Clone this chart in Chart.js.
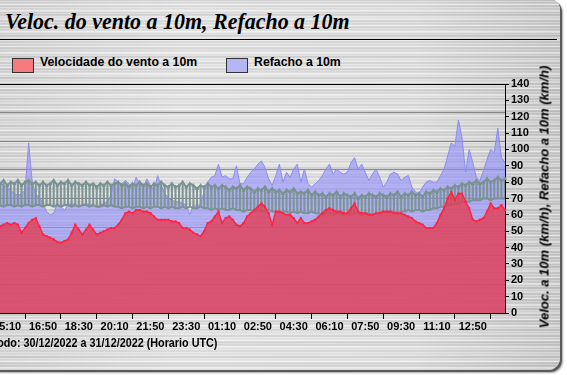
<!DOCTYPE html>
<html>
<head>
<meta charset="utf-8">
<script src="https://cdn.jsdelivr.net/npm/chart.js@4.4.1/dist/chart.umd.min.js"></script>
<style>
    html, body { margin: 0; padding: 0; background: #fff; }
    #stage {
        position: relative; width: 567px; height: 375px; overflow: hidden;
        font-family: "Liberation Sans", Arial, sans-serif; color: #000;
    }
    #frame {
        position: absolute; left: -20px; top: -2px; width: 580px; height: 372px;
        border-radius: 12px;
        box-shadow: 2px 2px 0 #5a5a5a, 3px 3px 2px rgba(0,0,0,0.35);
        background:
            repeating-linear-gradient(180deg, rgba(255,255,255,0.55) 0px, rgba(255,255,255,0) 1px, rgba(0,0,0,0.05) 2px, rgba(255,255,255,0) 3px),
            repeating-linear-gradient(180deg, rgba(0,0,0,0) 0px, rgba(0,0,0,0.06) 2px, rgba(0,0,0,0) 5px, rgba(255,255,255,0.45) 7px),
            repeating-linear-gradient(180deg, rgba(0,0,0,0) 0px, rgba(0,0,0,0.05) 4px, rgba(0,0,0,0) 11px),
            linear-gradient(90deg, #dcdcdc 0%, #ececec 35%, #e6e6e6 75%, #d0d0d0 100%);
    }
    #title {
        position: absolute; left: 5px; top: 8px; line-height: 24px;
        font: italic bold 24px "Liberation Serif", "Times New Roman", serif;
        white-space: nowrap; transform-origin: 0 0; transform: scaleX(0.915);
    }
    #rule { position: absolute; left: 0; top: 39px; width: 557px; border-top: 1px solid #000; }
    .key { position: absolute; top: 58px; width: 20px; height: 13px; border: 1px solid #333; }
    .keytxt { position: absolute; top: 56px; font-weight: bold; font-size: 12.3px; line-height: 12px; white-space: nowrap; }
    #ytitle {
        position: absolute; left: 544px; top: 197px; white-space: nowrap;
        font: italic bold 13px "Liberation Sans", Arial, sans-serif;
        transform: translate(-50%, -50%) rotate(-90deg);
    }
    #period {
        position: absolute; right: 350px; top: 337px; font-weight: bold; font-size: 12px;
        line-height: 12px; white-space: nowrap; transform-origin: 100% 0; transform: scaleX(0.9);
    }
    #chart { position: absolute; left: 0; top: 0; }
</style>
</head>
<body>
<div id="stage">
    <div id="frame"></div>
    <div id="title">Veloc. do vento a 10m, Refacho a 10m</div>
    <div id="rule"></div>
    <div class="key" style="left:12px;background:#f57a7e"></div>
    <div class="keytxt" style="left:40px">Velocidade do vento a 10m</div>
    <div class="key" style="left:226px;background:#b6b6f4"></div>
    <div class="keytxt" style="left:254px">Refacho a 10m</div>
    <canvas id="chart" width="567" height="375"></canvas>
    <div id="ytitle">Veloc. a 10m (km/h), Refacho a 10m (km/h)</div>
    <div id="period">Período: 30/12/2022 a 31/12/2022 (Horario UTC)</div>
</div>
<script>
const timeLabels = [
    '14:50',
    '15:00', '15:10', '15:20', '15:30', '15:40', '15:50',
    '16:00', '16:10', '16:20', '16:30', '16:40', '16:50',
    '17:00', '17:10', '17:20', '17:30', '17:40', '17:50',
    '18:00', '18:10', '18:20', '18:30', '18:40', '18:50',
    '19:00', '19:10', '19:20', '19:30', '19:40', '19:50',
    '20:00', '20:10', '20:20', '20:30', '20:40', '20:50',
    '21:00', '21:10', '21:20', '21:30', '21:40', '21:50',
    '22:00', '22:10', '22:20', '22:30', '22:40', '22:50',
    '23:00', '23:10', '23:20', '23:30', '23:40', '23:50',
    '00:00', '00:10', '00:20', '00:30', '00:40', '00:50',
    '01:00', '01:10', '01:20', '01:30', '01:40', '01:50',
    '02:00', '02:10', '02:20', '02:30', '02:40', '02:50',
    '03:00', '03:10', '03:20', '03:30', '03:40', '03:50',
    '04:00', '04:10', '04:20', '04:30', '04:40', '04:50',
    '05:00', '05:10', '05:20', '05:30', '05:40', '05:50',
    '06:00', '06:10', '06:20', '06:30', '06:40', '06:50',
    '07:00', '07:10', '07:20', '07:30', '07:40', '07:50',
    '08:00', '08:10', '08:20', '08:30', '08:40', '08:50',
    '09:00', '09:10', '09:20', '09:30', '09:40', '09:50',
    '10:00', '10:10', '10:20', '10:30', '10:40', '10:50',
    '11:00', '11:10', '11:20', '11:30', '11:40', '11:50',
    '12:00', '12:10', '12:20', '12:30', '12:40', '12:50',
    '13:00', '13:10', '13:20', '13:30', '13:40', '13:50',
    '14:00', '14:10', '14:20'
];

const xTickLabels = ['15:10', '16:50', '18:30', '20:10', '21:50', '23:30', '01:10',
    '02:50', '04:30', '06:10', '07:50', '09:30', '11:10', '12:50'];

// km/h
const windSpeed = [
    53, 54, 55, 54, 55, 54, 49, 52, 55, 57, 58, 53,
    48, 47, 46, 45, 43.5, 43, 44, 45, 49, 54, 51, 48,
    51, 54, 51, 48, 49, 50, 51, 52, 52, 54, 57, 61,
    62, 61, 63, 63, 62, 62, 61, 59, 57, 57, 57, 57,
    56, 56, 55, 52, 52, 51, 49, 48, 47, 50, 55, 56,
    59, 62, 55, 58, 59, 57, 54, 53, 55, 59, 61, 63,
    65, 67, 65, 61, 54, 62, 62, 61, 60, 60, 58, 55,
    58, 55, 55, 56, 57, 59, 61, 63, 64, 63, 62, 62,
    61, 61, 64, 67, 62, 61, 61, 60, 60, 61, 61, 62,
    62, 62, 61, 61, 61, 60, 59, 58, 56, 55, 54, 52,
    52, 52, 55, 60, 64, 70, 74, 69, 73, 73, 68, 64,
    57, 56, 57, 58, 62, 67, 64, 64, 66, 63
];

const windGust = [
    80, 78, 77, 75, 73, 72, 73, 75, 104, 80, 72, 71,
    67, 62, 60, 61, 67, 65, 63, 66, 67, 66, 65, 66,
    67, 66, 66, 65, 66, 67, 68, 72, 82, 80, 79, 81,
    79, 76, 83, 79, 77, 82, 78, 75, 84, 78, 73, 70,
    69, 68, 68, 67, 66, 60, 66, 65, 67, 74, 80, 83,
    84, 91, 83, 84, 82, 82, 90, 79, 79, 83, 86, 88,
    91, 93, 89, 82, 78, 84, 91, 80, 86, 83, 88, 91,
    80, 88, 79, 77, 79, 81, 84, 88, 91, 85, 88, 86,
    85, 86, 92, 95, 88, 91, 86, 81, 85, 88, 83, 77,
    80, 85, 86, 85, 81, 83, 84, 77, 74, 73, 77, 80,
    81, 80, 80, 84, 88, 96, 104, 102, 118, 107, 86, 100,
    92, 83, 81, 87, 94, 100, 98, 113, 95, 92
];

// grey band drawn behind the wind speed
const bandHigh = [
    79, 81, 78, 80, 79, 81, 78, 80, 81, 79, 80, 78,
    80, 78, 79, 81, 78, 80, 79, 81, 78, 80, 79, 78,
    80, 78, 79, 77, 79, 78, 80, 78, 79, 80, 78, 79,
    77, 79, 78, 80, 78, 79, 77, 79, 78, 80, 78, 77,
    79, 77, 78, 80, 77, 79, 78, 76, 78, 77, 79, 77,
    78, 76, 78, 77, 75, 77, 76, 78, 75, 77, 76, 74,
    76, 75, 77, 74, 76, 74, 75, 73, 75, 74, 76, 73,
    74, 73, 75, 72, 74, 72, 73, 71, 73, 72, 74, 71,
    73, 72, 71, 73, 70, 72, 71, 73, 72, 71, 73, 72,
    71, 73, 72, 74, 71, 73, 72, 74, 72, 73, 71, 74,
    73, 75, 74, 76, 75, 77, 76, 78, 77, 79, 78, 80,
    79, 81, 79, 80, 82, 80, 81, 83, 81, 82
];

const bandLow = [
    66, 65, 66, 66, 65, 66, 65, 66, 66, 65, 66, 66,
    65, 66, 66, 65, 66, 65, 66, 66, 65, 66, 65, 66,
    66, 65, 66, 65, 65, 66, 65, 66, 65, 65, 64, 65,
    65, 64, 65, 65, 64, 65, 64, 65, 65, 64, 65, 64,
    65, 64, 64, 65, 64, 65, 64, 64, 65, 64, 64, 63,
    64, 63, 64, 63, 63, 64, 63, 63, 62, 63, 63, 62,
    63, 62, 62, 63, 62, 62, 61, 62, 62, 61, 62, 61,
    62, 61, 61, 62, 61, 61, 60, 61, 61, 60, 61, 61,
    60, 61, 60, 61, 61, 60, 61, 61, 60, 61, 61, 62,
    61, 62, 62, 61, 62, 62, 63, 62, 63, 63, 62, 63,
    63, 64, 64, 65, 65, 66, 66, 67, 67, 68, 68, 68,
    69, 69, 69, 70, 70, 69, 70, 70, 70, 70
];

const colors = {
    speedLine: '#ff2445',
    speedFill: 'rgba(228, 60, 82, 0.8)',
    gustLine: 'rgb(140, 140, 240)',
    gustFill: 'rgba(140, 140, 250, 0.6)',
    band: '#7a9292',
    bandBar: '#7d9494'
};

const tickFont = { family: '"Liberation Sans", Arial, sans-serif', weight: 'bold', size: 11 };

function buildChart() {
    const canvas = document.getElementById('chart');

    new Chart(canvas, {
        type: 'line',
        data: {
            labels: timeLabels,
            datasets: [
                {
                    label: 'Velocidade do vento a 10m',
                    data: windSpeed,
                    yAxisID: 'y',
                    borderColor: colors.speedLine,
                    backgroundColor: colors.speedFill,
                    fill: 'origin',
                    borderWidth: 1.5,
                    pointStyle: 'rect',
                    pointRadius: 1.5,
                    pointBorderWidth: 0,
                    pointBackgroundColor: colors.speedLine,
                    order: 0
                },
                {
                    label: 'band top',
                    data: bandHigh,
                    yAxisID: 'y',
                    borderColor: colors.band,
                    borderWidth: 2,
                    pointStyle: 'triangle',
                    pointRadius: 2.5,
                    pointBorderWidth: 0,
                    pointBackgroundColor: colors.band,
                    fill: false,
                    order: 1
                },
                {
                    label: 'band bottom',
                    data: bandLow,
                    yAxisID: 'y',
                    borderColor: colors.band,
                    borderWidth: 2,
                    pointRadius: 0,
                    fill: false,
                    order: 1
                },
                {
                    type: 'bar',
                    label: 'band',
                    data: bandLow.map((lo, i) => [lo, bandHigh[i]]),
                    yAxisID: 'y',
                    backgroundColor: colors.bandBar,
                    barThickness: 1.4,
                    order: 2
                },
                {
                    label: 'Refacho a 10m',
                    data: windGust,
                    yAxisID: 'y',
                    borderColor: colors.gustLine,
                    backgroundColor: colors.gustFill,
                    fill: 'origin',
                    borderWidth: 1,
                    pointRadius: 0,
                    order: 3
                }
            ]
        },
        options: {
            animation: false,
            responsive: false,
            events: [],
            layout: { padding: { top: 84, left: 0, right: 0, bottom: 0 }, autoPadding: false },
            elements: { line: { tension: 0 } },
            plugins: {
                legend: { display: false },
                tooltip: { enabled: false }
            },
            scales: {
                x: {
                    type: 'category',
                    offset: false,
                    border: { display: true, color: '#000', width: 1 },
                    grid: { drawOnChartArea: false, drawTicks: true, tickLength: 6, color: '#000' },
                    ticks: { autoSkip: false, maxRotation: 0, minRotation: 0, padding: 1, color: '#000', font: tickFont },
                    afterBuildTicks: scale => {
                        scale.ticks = scale.ticks.filter(t => xTickLabels.includes(timeLabels[t.value]));
                    },
                    afterFit: scale => {
                        scale.height = 62;
                        scale.paddingLeft = 0;
                        scale.paddingRight = 0;
                    }
                },
                y: {
                    position: 'right',
                    min: 0,
                    max: 140,
                    border: { display: true, color: '#000', width: 1 },
                    grid: { drawOnChartArea: false, drawTicks: true, tickLength: 4, color: '#000' },
                    ticks: { stepSize: 10, padding: 2, color: '#000', font: tickFont, autoSkip: false },
                    afterFit: scale => { scale.width = 62; }
                },
                yg: {
                    position: 'left',
                    min: 0,
                    max: 140,
                    border: { display: false },
                    grid: {
                        drawTicks: false,
                        lineWidth: 1,
                        color: ctx => (ctx.tick && ctx.tick.value === 140) ? '#000' : 'rgba(70, 70, 70, 0.55)'
                    },
                    ticks: { display: false, stepSize: 17.5 },
                    afterFit: scale => { scale.width = 0; }
                }
            }
        }
    });
}

document.addEventListener('DOMContentLoaded', buildChart);
</script>
</body>
</html>
